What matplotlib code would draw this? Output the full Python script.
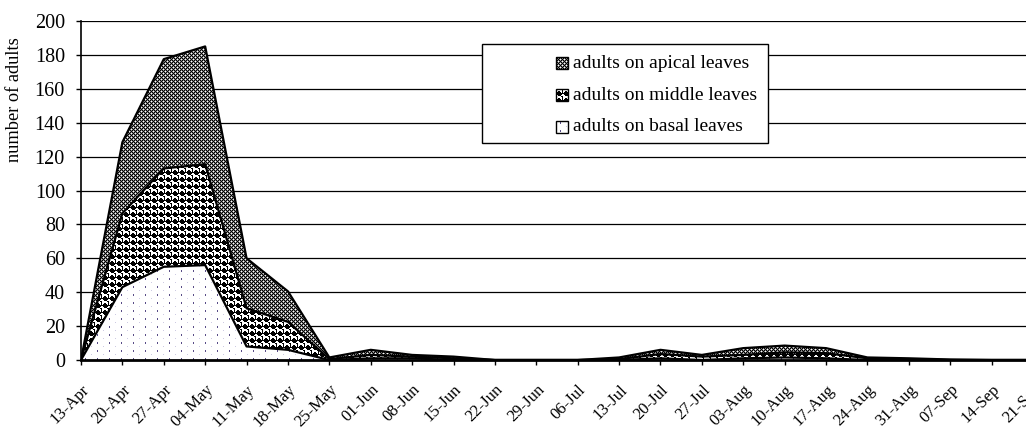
import matplotlib
matplotlib.use("Agg")
import matplotlib.pyplot as plt
import matplotlib.transforms as mtransforms
import numpy as np
from matplotlib.patches import Rectangle

plt.rcParams['font.family'] = ['Liberation Serif', 'DejaVu Serif']

dates = ["13-Apr", "20-Apr", "27-Apr", "04-May", "11-May", "18-May", "25-May",
         "01-Jun", "08-Jun", "15-Jun", "22-Jun", "29-Jun", "06-Jul", "13-Jul",
         "20-Jul", "27-Jul", "03-Aug", "10-Aug", "17-Aug", "24-Aug", "31-Aug",
         "07-Sep", "14-Sep", "21-Sep"]

# adults per leaf level (stacked: basal, middle, apical)
basal = [0, 43, 55, 56, 8, 6, 0, 1, 1, 0, 0, 0, 0, 0, 1, 0, 1, 1.5, 1, 0, 0, 0, 0, 0]
middle = [0, 43.5, 58, 59.5, 22.5, 16.5, 0.5, 2, 1, 1, 0, 0, 0, 0.5, 2.5, 2, 2, 3, 3, 1, 0.5, 0, 0, 0]
apical = [0, 42, 64.5, 69.5, 29.5, 18, 1, 3, 1, 1, 0, 0, 0, 1, 2.5, 1, 4, 4, 3, 0.5, 0.5, 0.3, 0, 0]

labels = ["adults on apical leaves", "adults on middle leaves", "adults on basal leaves"]

# fill textures (rgb), repeated over the plot
K, W, G = (0, 0, 0), (255, 255, 255), (128, 128, 128)
apical_tile = np.array([[K, G, W, G],
                        [G, K, G, K],
                        [W, G, K, G],
                        [G, K, G, K]], dtype=np.uint8)
middle_tile = np.array([[W, W, W, W, W, K, K],
                        [W, W, W, W, W, W, K],
                        [W, W, K, K, W, W, K],
                        [W, K, K, K, K, W, K],
                        [K, K, K, K, K, K, K],
                        [W, K, K, K, K, K, W],
                        [W, W, K, K, K, W, W]], dtype=np.uint8)
D, L = (88, 76, 135), (205, 202, 226)
basal_tile = np.full((8, 12, 3), 255, dtype=np.uint8)
basal_tile[1:3, 4] = D
basal_tile[5, 10] = L


def texture(tile, h, w):
    th, tw = tile.shape[:2]
    return np.tile(tile, (h // th + 1, w // tw + 1, 1))[:h, :w]


fig = plt.figure(figsize=(10.26, 4.32), dpi=100)
ax_px = (81, 21, 1033, 360)
ax = fig.add_axes([ax_px[0] / 1026, 1 - ax_px[3] / 432,
                   (ax_px[2] - ax_px[0]) / 1026, (ax_px[3] - ax_px[1]) / 432])
pw, ph = ax_px[2] - ax_px[0], ax_px[3] - ax_px[1]

x = np.arange(len(dates))
b = np.array(basal)
m = b + np.array(middle)
t = m + np.array(apical)

for lo, hi, tile in ((0 * b, b, basal_tile), (b, m, middle_tile), (m, t, apical_tile)):
    poly = ax.fill_between(x, lo, hi, facecolor="none", linewidth=0)
    im = ax.imshow(texture(tile, ph, pw), extent=(0, len(dates) - 1, 0, 200),
                   aspect="auto", interpolation="nearest", zorder=2)
    im.set_clip_path(poly.get_paths()[0], ax.transData)
for y in (b, m, t):
    ax.plot(x, y, color="black", linewidth=1.6, zorder=3)

ax.set_xlim(0, len(dates) - 1)
ax.set_ylim(0, 200)
ax.set_yticks(range(0, 201, 20))
ax.set_xticks(x)
ax.set_xticklabels(dates, rotation=45, ha="right", rotation_mode="anchor", fontsize=12)
shift = mtransforms.ScaledTranslation(-4 / 100, 0, fig.dpi_scale_trans)
for lab in ax.get_xticklabels():
    lab.set_transform(lab.get_transform() + shift)
ax.tick_params(axis="y", labelsize=14.5, length=3.6, width=1, direction="out", pad=8)
ax.tick_params(axis="x", length=3.6, width=1, direction="out", pad=12)
ax.grid(axis="y", color="black", linewidth=0.9, zorder=1)
ax.set_axisbelow(True)
for s in ("top", "right"):
    ax.spines[s].set_visible(False)
ax.spines["left"].set_linewidth(1.2)
ax.spines["bottom"].set_linewidth(2)
ax.spines["bottom"].set_zorder(4)
ax.set_ylabel("number of adults", fontsize=13.2)
ax.yaxis.set_label_coords(-0.061, 0.767)

# legend drawn by hand: box, texture squares and labels
fig.add_artist(Rectangle((482 / 1026, 1 - 143 / 432), (768 - 482) / 1026, (143 - 44) / 432,
                         transform=fig.transFigure, facecolor="white", edgecolor="black",
                         linewidth=1, zorder=5))
rows = [63, 95, 127]
for yc, tile, lab in zip(rows, (apical_tile, middle_tile, basal_tile), labels):
    fig.figimage(texture(tile, 12, 12), xo=556, yo=432 - (yc + 6), zorder=6)
    fig.add_artist(Rectangle((556 / 1026, 1 - (yc + 6) / 432), 12 / 1026, 12 / 432,
                             transform=fig.transFigure, facecolor="none", edgecolor="black",
                             linewidth=1, zorder=7))
    fig.text(573 / 1026, 1 - yc / 432, lab, fontsize=14, va="center", ha="left", zorder=7)

fig.savefig("out.png", dpi=100)
